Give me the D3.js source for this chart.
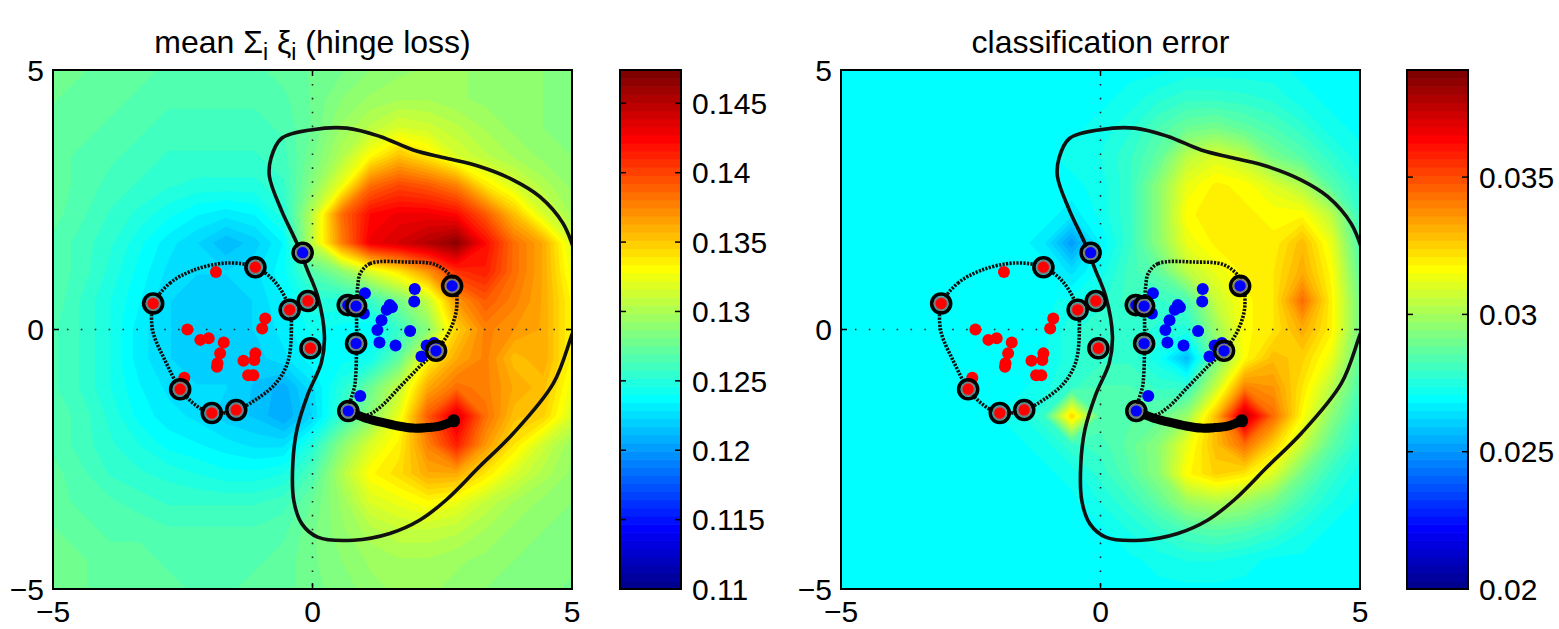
<!DOCTYPE html>
<html>
<head>
<meta charset="utf-8">
<script src="https://cdn.jsdelivr.net/npm/d3@7"></script>
<style>
  body { margin: 0; background: #fff; }
  svg { display: block; }
  text { font-family: "Liberation Sans", Arial, Helvetica, sans-serif; fill: #000; }
</style>
</head>
<body>
<div id="chart"></div>
<script>
// grid the two fields were sampled on (19 x 19, rows from y = 5 down to y = -5)
var gridX = [-5, -4.444, -3.889, -3.333, -2.778, -2.222, -1.667, -1.111, -0.556, 0,
             0.556, 1.111, 1.667, 2.222, 2.778, 3.333, 3.889, 4.444, 5];

// mean hinge loss
var lossGrid = [
  [.1276,.1276,.1272,.1272,.1268,.1268,.1268,.1268,.1272,.1276,.1280,.1287,.1291,.1294,.1294,.1291,.1287,.1287,.1283],
  [.1276,.1272,.1272,.1268,.1265,.1265,.1265,.1265,.1268,.1276,.1287,.1294,.1298,.1298,.1294,.1291,.1287,.1287,.1283],
  [.1272,.1272,.1268,.1265,.1261,.1261,.1261,.1261,.1265,.1276,.1294,.1306,.1317,.1313,.1306,.1298,.1291,.1287,.1283],
  [.1272,.1268,.1265,.1261,.1257,.1257,.1257,.1257,.1261,.1280,.1302,.1332,.1354,.1339,.1317,.1306,.1298,.1291,.1287],
  [.1272,.1268,.1261,.1257,.1253,.1250,.1250,.1250,.1257,.1287,.1324,.1384,.1399,.1392,.1377,.1339,.1317,.1302,.1291],
  [.1272,.1265,.1257,.1250,.1242,.1235,.1231,.1235,.1250,.1306,.1384,.1422,.1429,.1429,.1422,.1392,.1354,.1317,.1298],
  [.1268,.1261,.1253,.1242,.1231,.1223,.1212,.1220,.1235,.1309,.1377,.1429,.1440,.1452,.1467,.1422,.1384,.1362,.1317],
  [.1268,.1261,.1250,.1238,.1227,.1223,.1223,.1227,.1238,.1268,.1287,.1317,.1339,.1369,.1407,.1414,.1384,.1362,.1324],
  [.1268,.1257,.1246,.1235,.1223,.1220,.1220,.1223,.1235,.1250,.1250,.1257,.1280,.1309,.1369,.1392,.1377,.1362,.1332],
  [.1265,.1257,.1246,.1231,.1223,.1220,.1220,.1223,.1231,.1242,.1238,.1235,.1257,.1287,.1347,.1377,.1369,.1362,.1332],
  [.1265,.1257,.1246,.1231,.1223,.1220,.1220,.1220,.1227,.1238,.1238,.1242,.1272,.1332,.1362,.1377,.1354,.1362,.1332],
  [.1265,.1257,.1246,.1235,.1227,.1223,.1223,.1216,.1208,.1227,.1250,.1276,.1309,.1362,.1384,.1377,.1362,.1354,.1324],
  [.1268,.1261,.1250,.1238,.1231,.1227,.1220,.1216,.1205,.1223,.1257,.1287,.1324,.1392,.1437,.1384,.1354,.1347,.1317],
  [.1268,.1261,.1253,.1246,.1238,.1235,.1231,.1227,.1227,.1250,.1287,.1317,.1336,.1377,.1414,.1369,.1339,.1313,.1294],
  [.1272,.1265,.1257,.1253,.1250,.1246,.1242,.1242,.1246,.1265,.1302,.1332,.1343,.1362,.1362,.1339,.1317,.1302,.1291],
  [.1272,.1268,.1265,.1261,.1257,.1257,.1257,.1257,.1261,.1276,.1294,.1317,.1324,.1332,.1324,.1309,.1298,.1291,.1287],
  [.1276,.1272,.1268,.1268,.1265,.1265,.1265,.1265,.1268,.1280,.1291,.1302,.1309,.1309,.1306,.1298,.1291,.1287,.1283],
  [.1276,.1276,.1272,.1272,.1268,.1268,.1268,.1268,.1272,.1280,.1287,.1294,.1298,.1298,.1294,.1291,.1287,.1283,.1283],
  [.1276,.1276,.1272,.1272,.1272,.1268,.1268,.1272,.1272,.1280,.1283,.1291,.1294,.1294,.1291,.1287,.1283,.1283,.1280]
];

// classification error
var errGrid = [
  [.0270,.0270,.0270,.0270,.0270,.0270,.0270,.0270,.0270,.0270,.0270,.0270,.0272,.0272,.0272,.0272,.0270,.0270,.0270],
  [.0270,.0270,.0270,.0270,.0270,.0270,.0270,.0270,.0270,.0270,.0272,.0276,.0279,.0279,.0278,.0276,.0272,.0270,.0270],
  [.0270,.0270,.0270,.0270,.0270,.0270,.0270,.0270,.0270,.0272,.0276,.0283,.0289,.0291,.0287,.0283,.0278,.0272,.0270],
  [.0270,.0270,.0270,.0270,.0270,.0270,.0270,.0270,.0272,.0274,.0279,.0287,.0304,.0310,.0304,.0291,.0285,.0278,.0272],
  [.0270,.0270,.0270,.0270,.0270,.0270,.0270,.0270,.0270,.0272,.0279,.0295,.0313,.0319,.0317,.0310,.0302,.0285,.0276],
  [.0270,.0270,.0270,.0270,.0270,.0270,.0270,.0270,.0266,.0272,.0279,.0295,.0317,.0321,.0319,.0317,.0317,.0304,.0279],
  [.0270,.0270,.0270,.0270,.0270,.0270,.0270,.0266,.0251,.0268,.0279,.0295,.0313,.0319,.0319,.0319,.0329,.0313,.0283],
  [.0270,.0270,.0270,.0270,.0270,.0270,.0270,.0270,.0264,.0272,.0281,.0287,.0304,.0313,.0319,.0321,.0332,.0317,.0287],
  [.0270,.0270,.0270,.0270,.0270,.0270,.0270,.0270,.0272,.0276,.0281,.0279,.0283,.0306,.0317,.0321,.0344,.0319,.0291],
  [.0270,.0270,.0270,.0270,.0270,.0270,.0270,.0270,.0276,.0279,.0279,.0276,.0276,.0298,.0317,.0321,.0332,.0319,.0291],
  [.0270,.0270,.0270,.0270,.0270,.0270,.0270,.0270,.0276,.0279,.0279,.0272,.0257,.0291,.0317,.0329,.0325,.0313,.0287],
  [.0270,.0270,.0270,.0270,.0270,.0270,.0270,.0272,.0279,.0283,.0283,.0279,.0279,.0306,.0340,.0336,.0321,.0304,.0283],
  [.0270,.0270,.0270,.0270,.0270,.0270,.0272,.0279,.0325,.0285,.0285,.0287,.0298,.0329,.0376,.0344,.0317,.0295,.0279],
  [.0270,.0270,.0270,.0270,.0270,.0270,.0270,.0272,.0279,.0281,.0287,.0295,.0313,.0329,.0344,.0325,.0306,.0287,.0276],
  [.0270,.0270,.0270,.0270,.0270,.0270,.0270,.0270,.0272,.0278,.0285,.0295,.0317,.0325,.0321,.0310,.0291,.0279,.0272],
  [.0270,.0270,.0270,.0270,.0270,.0270,.0270,.0270,.0270,.0274,.0279,.0287,.0298,.0302,.0298,.0291,.0281,.0274,.0270],
  [.0270,.0270,.0270,.0270,.0270,.0270,.0270,.0270,.0270,.0270,.0274,.0278,.0283,.0285,.0283,.0279,.0274,.0270,.0270],
  [.0270,.0270,.0270,.0270,.0270,.0270,.0270,.0270,.0270,.0270,.0270,.0272,.0274,.0274,.0272,.0270,.0270,.0270,.0270],
  [.0270,.0270,.0270,.0270,.0270,.0270,.0270,.0270,.0270,.0270,.0270,.0270,.0270,.0270,.0270,.0270,.0270,.0270,.0270]
];

var lossRange = [0.11, 0.1474];
var errRange = [0.02, 0.0389];
var lossTicks = [0.11, 0.115, 0.12, 0.125, 0.13, 0.135, 0.14, 0.145];
var errTicks = [0.02, 0.025, 0.03, 0.035];
var axisTicks = [-5, 0, 5];

// training points (class -1 red, class +1 blue), support vectors circled
var redPts = [[-1.86,1.11],[-2.41,0.0],[-2.16,-0.2],[-2.0,-0.17],[-1.71,-0.25],[-1.78,-0.46],
  [-1.83,-0.65],[-1.84,-0.72],[-1.33,-0.6],[-1.12,-0.59],[-1.1,-0.46],[-0.91,0.21],
  [-0.97,0.02],[-1.24,-0.88],[-1.14,-0.88],[-2.47,-0.93]];
var redSV = [[-3.07,0.5],[-1.1,1.2],[-0.44,0.38],[-0.09,0.55],[-0.04,-0.36],[-2.55,-1.15],
  [-1.94,-1.61],[-1.47,-1.55]];
var bluePts = [[1.01,0.7],[0.99,0.31],[1.49,0.47],[1.43,0.38],[1.53,0.43],[1.33,0.18],[1.25,-0.01],
  [1.29,-0.25],[1.6,-0.31],[1.88,-0.03],[1.97,0.78],[1.96,0.54],[2.2,-0.31],[2.1,-0.52],
  [2.34,-0.26],[0.92,-1.28]];
var blueSV = [[-0.19,1.48],[0.68,0.47],[0.84,0.45],[0.84,-0.27],[0.69,-1.57],[2.69,0.84],[2.38,-0.41]];

// decision boundary (solid) and the two margin loops (dotted)
var boundary = [[-0.8,3.3],[-0.6,3.68],[0.0,3.85],[0.66,3.88],[1.3,3.72],[1.94,3.46],[2.58,3.3],
  [3.22,3.14],[3.87,2.88],[4.38,2.56],[4.83,2.04],[5.08,1.4],[5.2,0.8],[5.15,0.3],[5.0,-0.1],
  [4.64,-1.04],[3.87,-2.0],[3.22,-2.64],[2.58,-3.28],[2.07,-3.67],[1.49,-3.93],[0.79,-4.06],
  [0.1,-4.0],[-0.2,-3.75],[-0.36,-3.3],[-0.38,-2.6],[-0.3,-1.93],[-0.09,-1.25],[0.17,-0.64],
  [0.23,-0.13],[0.1,0.64],[-0.1,1.15],[-0.3,1.66],[-0.6,2.3],[-0.83,2.95]];
var loopRed = [[-3.07,0.5],[-2.75,0.89],[-2.3,1.14],[-1.66,1.28],[-1.1,1.2],[-0.7,0.89],
  [-0.44,0.38],[-0.41,-0.13],[-0.48,-0.64],[-0.7,-1.03],[-1.09,-1.35],[-1.47,-1.55],
  [-1.96,-1.61],[-2.3,-1.42],[-2.56,-1.13],[-2.82,-0.64],[-3.07,-0.06],[-3.1,0.32]];
var loopBlue = [[0.92,1.08],[1.11,1.27],[1.81,1.3],[2.39,1.24],[2.71,0.95],[2.78,0.44],
  [2.65,-0.01],[2.39,-0.4],[2.07,-0.71],[1.69,-1.1],[1.3,-1.5],[1.04,-1.65],[0.72,-1.58],
  [0.82,-1.04],[0.85,-0.27],[0.85,0.44],[0.87,0.82]];
var trail = [[0.72,-1.58],[1.0,-1.7],[1.3,-1.78],[1.65,-1.86],[1.94,-1.9],[2.2,-1.89],
  [2.45,-1.86],[2.72,-1.76]];

var W = 1559, H = 629;
var svg = d3.select("#chart").append("svg").attr("width", W).attr("height", H);

function jet(i) {
  // matlab jet(64), i = 0..63
  var k = i + 1, r, g, b;
  b = k <= 8 ? (k + 8) / 16 : k <= 24 ? 1 : k <= 40 ? (40 - k) / 16 : 0;
  g = k <= 8 ? 0 : k <= 24 ? (k - 8) / 16 : k <= 40 ? 1 : k <= 56 ? (56 - k) / 16 : 0;
  r = k <= 24 ? 0 : k <= 40 ? (k - 24) / 16 : k <= 56 ? 1 : (72 - k) / 16;
  return d3.rgb(r * 255, g * 255, b * 255).toString();
}

function panel(id, left, cbLeft, titleParts, grid, range, cTicks, tickFmt) {
  var x = d3.scaleLinear().domain([-5, 5]).range([left, left + 519]);
  var y = d3.scaleLinear().domain([-5, 5]).range([589, 70]);
  var n = gridX.length;
  var gx = d3.scaleLinear().domain([0.5, n - 0.5]).range([x(gridX[0]), x(gridX[n - 1])]);
  var gy = d3.scaleLinear().domain([0.5, n - 0.5]).range([y(5), y(-5)]);

  var g = svg.append("g");
  g.append("clipPath").attr("id", "clip" + id)
    .append("rect").attr("x", x(-5)).attr("y", y(5))
    .attr("width", x(5) - x(-5)).attr("height", y(-5) - y(5));
  var inner = g.append("g").attr("clip-path", "url(#clip" + id + ")");

  // filled contours, 64 levels
  var thr = d3.range(64).map(function(i) { return range[0] + i * (range[1] - range[0]) / 64; });
  var flat = [];
  grid.forEach(function(row) { row.forEach(function(v) { flat.push(v); }); });
  var bands = d3.contours().size([n, n]).thresholds(thr)(flat);
  var proj = d3.geoTransform({ point: function(px, py) { this.stream.point(gx(px), gy(py)); } });
  var path = d3.geoPath(proj);
  inner.selectAll("path.band").data(bands).join("path")
    .attr("class", "band")
    .attr("d", path)
    .attr("fill", function(d, i) { return jet(i); });

  // dotted zero lines
  inner.append("line").attr("x1", x(0)).attr("x2", x(0)).attr("y1", y(5)).attr("y2", y(-5))
    .attr("stroke", "#222").attr("stroke-width", 1.6).attr("stroke-dasharray", "1.6,12.3");
  inner.append("line").attr("x1", x(-5)).attr("x2", x(5)).attr("y1", y(0)).attr("y2", y(0))
    .attr("stroke", "#222").attr("stroke-width", 1.6).attr("stroke-dasharray", "1.6,12.3");

  var closed = d3.line().x(function(d) { return x(d[0]); }).y(function(d) { return y(d[1]); })
    .curve(d3.curveCatmullRomClosed.alpha(0.5));
  var open = d3.line().x(function(d) { return x(d[0]); }).y(function(d) { return y(d[1]); })
    .curve(d3.curveCatmullRom.alpha(0.5));

  inner.append("path").attr("d", closed(boundary)).attr("fill", "none")
    .attr("stroke", "#111").attr("stroke-width", 3.6);
  [loopRed, loopBlue].forEach(function(lp) {
    inner.append("path").attr("d", closed(lp)).attr("fill", "none")
      .attr("stroke", "#111").attr("stroke-width", 3.6).attr("stroke-dasharray", "2.2,1.3");
  });
  inner.append("path").attr("d", open(trail)).attr("fill", "none")
    .attr("stroke", "#000").attr("stroke-width", 9).attr("stroke-linecap", "round");
  inner.append("circle").attr("cx", x(trail[trail.length - 1][0])).attr("cy", y(trail[trail.length - 1][1]))
    .attr("r", 6.5).attr("fill", "#000");

  // points
  inner.selectAll("circle.red").data(redPts).join("circle").attr("class", "red")
    .attr("cx", function(d) { return x(d[0]); }).attr("cy", function(d) { return y(d[1]); })
    .attr("r", 6).attr("fill", "#ff0000");
  inner.selectAll("circle.blue").data(bluePts).join("circle").attr("class", "blue")
    .attr("cx", function(d) { return x(d[0]); }).attr("cy", function(d) { return y(d[1]); })
    .attr("r", 6).attr("fill", "#0000ff");
  [[redSV, "#ff0000"], [blueSV, "#0000ff"]].forEach(function(s) {
    var sv = inner.append("g").selectAll("g").data(s[0]).join("g")
      .attr("transform", function(d) { return "translate(" + x(d[0]) + "," + y(d[1]) + ")"; });
    sv.append("circle").attr("r", 6.5).attr("fill", s[1]).attr("stroke", "#7a7a7a").attr("stroke-width", 1.8);
    sv.append("circle").attr("r", 9.5).attr("fill", "none").attr("stroke", "#000").attr("stroke-width", 3.6);
  });

  // frame and ticks
  g.append("rect").attr("x", x(-5)).attr("y", y(5))
    .attr("width", x(5) - x(-5)).attr("height", y(-5) - y(5))
    .attr("fill", "none").attr("stroke", "#000").attr("stroke-width", 2);
  axisTicks.forEach(function(t) {
    g.append("line").attr("x1", x(t)).attr("x2", x(t)).attr("y1", y(-5)).attr("y2", y(-5) - 6).attr("stroke", "#000").attr("stroke-width", 1.5);
    g.append("line").attr("x1", x(t)).attr("x2", x(t)).attr("y1", y(5)).attr("y2", y(5) + 6).attr("stroke", "#000").attr("stroke-width", 1.5);
    g.append("line").attr("y1", y(t)).attr("y2", y(t)).attr("x1", x(-5)).attr("x2", x(-5) + 6).attr("stroke", "#000").attr("stroke-width", 1.5);
    g.append("line").attr("y1", y(t)).attr("y2", y(t)).attr("x1", x(5)).attr("x2", x(5) - 6).attr("stroke", "#000").attr("stroke-width", 1.5);
    var lab = t < 0 ? "\u2212" + Math.abs(t) : String(t);
    g.append("text").attr("x", x(-5) - 9).attr("y", y(t)).attr("dy", "0.36em")
      .attr("text-anchor", "end").attr("font-size", 30).text(lab);
    g.append("text").attr("x", x(t)).attr("y", 622)
      .attr("text-anchor", "middle").attr("font-size", 30).text(lab);
  });

  // title
  var tt = g.append("text").attr("x", x(0)).attr("y", 53).attr("text-anchor", "middle").attr("font-size", 32);
  titleParts.forEach(function(p) {
    var s = tt.append("tspan").text(p.t);
    if (p.sub) s.attr("font-size", 23).attr("baseline-shift", "-30%");
  });

  // colorbar
  var cy = d3.scaleLinear().domain(range).range([589, 70]);
  var cb = g.append("g");
  var step = (range[1] - range[0]) / 64;
  cb.selectAll("rect").data(d3.range(64)).join("rect")
    .attr("x", cbLeft).attr("width", 61)
    .attr("y", function(i) { return cy(range[0] + (i + 1) * step); })
    .attr("height", function(i) { return cy(range[0] + i * step) - cy(range[0] + (i + 1) * step) + 0.6; })
    .attr("fill", function(i) { return jet(i); });
  cb.append("rect").attr("x", cbLeft).attr("y", 70).attr("width", 61).attr("height", 519)
    .attr("fill", "none").attr("stroke", "#000").attr("stroke-width", 2);
  cTicks.forEach(function(t) {
    cb.append("line").attr("x1", cbLeft).attr("x2", cbLeft + 6).attr("y1", cy(t)).attr("y2", cy(t)).attr("stroke", "#000").attr("stroke-width", 1.5);
    cb.append("line").attr("x1", cbLeft + 61).attr("x2", cbLeft + 55).attr("y1", cy(t)).attr("y2", cy(t)).attr("stroke", "#000").attr("stroke-width", 1.5);
    cb.append("text").attr("x", cbLeft + 72).attr("y", cy(t)).attr("dy", "0.36em")
      .attr("font-size", 30).text(tickFmt(t));
  });
}

panel("L", 53, 620,
  [{ t: "mean \u03A3" }, { t: "i", sub: true }, { t: " \u03BE" }, { t: "i", sub: true }, { t: " (hinge loss)" }],
  lossGrid, lossRange, lossTicks, function(t) { return String(+t.toFixed(3)); });
panel("R", 841, 1407,
  [{ t: "classification error" }],
  errGrid, errRange, errTicks, function(t) { return String(+t.toFixed(3)); });
</script>
</body>
</html>
